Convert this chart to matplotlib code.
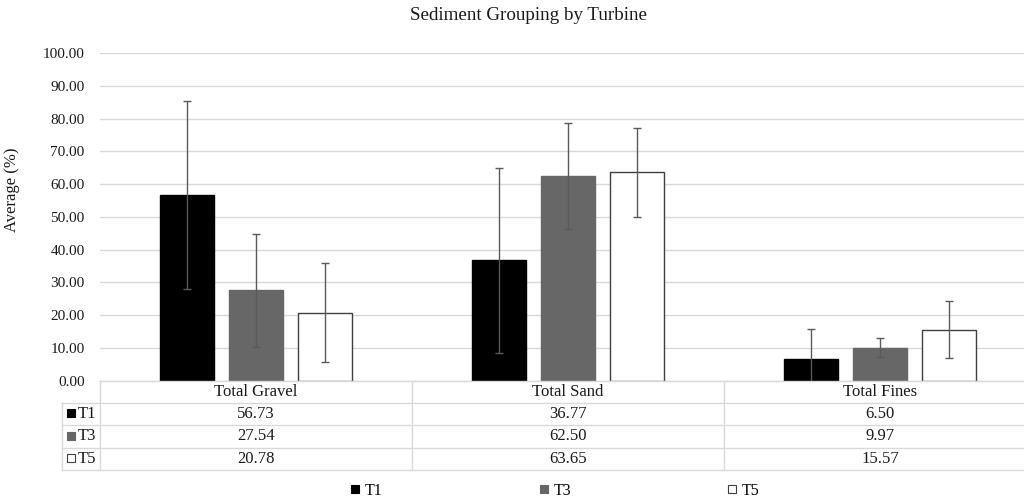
import numpy as np
import matplotlib
matplotlib.use("Agg")
import matplotlib.pyplot as plt
import matplotlib.transforms as mtransforms
from matplotlib.lines import Line2D

plt.rcParams['font.family'] = ['Liberation Serif', 'DejaVu Serif']

# Datos
categorias = ['Total Gravel', 'Total Sand', 'Total Fines']
turbinas = ['T1', 'T3', 'T5']
valores = {
    'T1': [56.73, 36.77, 6.50],
    'T3': [27.54, 62.50, 9.97],
    'T5': [20.78, 63.65, 15.57],
}
errores = {
    'T1': [28.7, 28.3, 9.3],
    'T3': [17.3, 16.3, 2.9],
    'T5': [15.2, 13.6, 8.8],
}
yticks = np.arange(0, 101, 10)

# Estilos
relleno = {'T1': '#000000', 'T3': '#676767', 'T5': '#ffffff'}
borde = {'T1': '#000000', 'T3': '#676767', 'T5': '#404040'}
gris_tabla = '#d9d9d9'
color_texto = '#1a1a1a'

W, H = 1024, 504
fig = plt.figure(figsize=(W / 100, H / 100), dpi=100)
# el eje llega mas alla del borde derecho (la figura original esta recortada)
x0, x1 = 100, 1036
y0, y1 = 380.5, 53.3
ax = fig.add_axes([x0 / W, 1 - y0 / H, (x1 - x0) / W, (y0 - y1) / H])

n = len(categorias)
pos = np.arange(n)
ancho = 0.173
paso = 0.221
for j, t in enumerate(turbinas):
    xs = pos + (j - 1) * paso
    ax.bar(xs, valores[t], width=ancho, color=relleno[t], edgecolor=borde[t],
           linewidth=1.0, zorder=2)
    ax.errorbar(xs, valores[t], yerr=errores[t], fmt='none', ecolor='#5a5a5a',
                elinewidth=1.0, capsize=3, capthick=1.0, zorder=3)

ax.set_xlim(-0.5, n - 0.5)
ax.set_ylim(0, 100)
ax.set_yticks(yticks)
ax.set_yticklabels(['%.2f' % v for v in yticks], fontsize=11, color=color_texto)
ax.set_xticks([])
ax.tick_params(axis='y', length=0, pad=11)
ax.yaxis.grid(True, color=gris_tabla, linewidth=1.0, zorder=0)
ax.set_axisbelow(True)
for s in ax.spines.values():
    s.set_visible(False)
ax.set_ylabel('Average (%)', fontsize=12, color=color_texto)
ax.yaxis.set_label_coords((20 - x0) / (x1 - x0), (y0 - 190) / (y0 - y1))

fig.text(529 / W, 1 - 15 / H, 'Sediment Grouping by Turbine', ha='center',
         va='center', fontsize=13.7, color=color_texto)

# Tabla de datos bajo el grafico
trans = mtransforms.blended_transform_factory(ax.transData, ax.transAxes)
alto_px = y0 - y1
fila = 22.4 / alto_px
x_etq = -0.5 - (x0 - 62) / 312.0
lineas_y = [-fila * k for k in range(n + 2)]
# lineas horizontales
ax.plot([-0.5, n - 0.5], [0, 0], color=gris_tabla, lw=1.0, transform=trans, clip_on=False)
for yy in lineas_y[1:]:
    ax.plot([x_etq, n - 0.5], [yy, yy], color=gris_tabla, lw=1.0,
            transform=trans, clip_on=False)
# lineas verticales
for k in range(n + 1):
    xx = -0.5 + k
    ax.plot([xx, xx], [0, lineas_y[-1]], color=gris_tabla, lw=1.0,
            transform=trans, clip_on=False)
ax.plot([x_etq, x_etq], [lineas_y[1], lineas_y[-1]], color=gris_tabla, lw=1.0,
        transform=trans, clip_on=False)

for i, c in enumerate(categorias):
    ax.text(i, -fila * 0.5, c, ha='center', va='center', fontsize=12,
            color=color_texto, transform=trans)
for r, t in enumerate(turbinas):
    yc = -fila * (r + 1.5)
    for i in range(n):
        ax.text(i, yc, '%.2f' % valores[t][i], ha='center', va='center',
                fontsize=12, color=color_texto, transform=trans)
    ax.plot([x_etq + 8.5 / 312.0], [yc + 1.0 / alto_px], marker='s', ms=5.5,
            mfc=relleno[t], mec=borde[t], mew=0.8, transform=trans, clip_on=False)
    ax.text(x_etq + 15.5 / 312.0, yc, t, ha='left', va='center', fontsize=12,
            color=color_texto, transform=trans)

# Leyenda inferior
manejadores = [Line2D([], [], linestyle='none', marker='s', ms=6, mfc=relleno[t],
                      mec=borde[t], mew=0.8) for t in turbinas]
fig.legend(manejadores, turbinas, loc='center', bbox_to_anchor=(555 / W, 1 - 491 / H),
           ncol=3, frameon=False, fontsize=11.5, handlelength=0.6,
           handletextpad=0.3, columnspacing=9.8)

fig.savefig('out.png', dpi=100)
